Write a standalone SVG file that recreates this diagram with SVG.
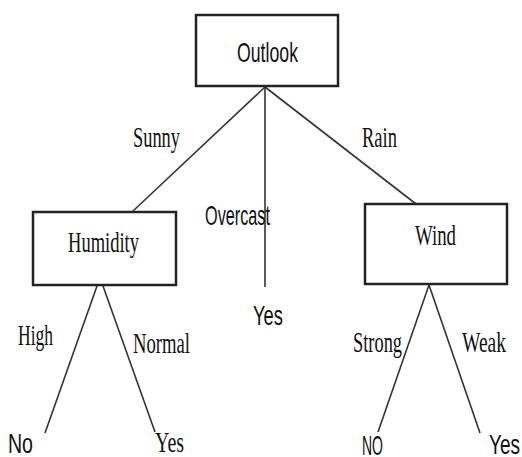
<svg xmlns="http://www.w3.org/2000/svg" width="522" height="457" viewBox="0 0 522 457">
<style>
.box{fill:#fff;stroke:#222;stroke-width:2.5}
.edge{stroke:#333;stroke-width:1.6;fill:none}
.serif{font-family:"Liberation Serif","Times New Roman",serif;font-size:29px;fill:#111}
.sans{font-family:"Liberation Sans",Arial,sans-serif;font-size:28px;fill:#111}
</style>
<rect width="522" height="457" fill="#fff"/>
<g id="connectors">
<line class="edge" x1="265" y1="87" x2="133" y2="211"/>
<line class="edge" x1="265" y1="87" x2="265" y2="287"/>
<line class="edge" x1="265" y1="87" x2="416" y2="204"/>
<line class="edge" x1="97" y1="286" x2="45" y2="433"/>
<line class="edge" x1="103" y1="286" x2="155" y2="432"/>
<line class="edge" x1="429" y1="285" x2="378" y2="432"/>
<line class="edge" x1="429" y1="285" x2="480" y2="433"/>
</g>
<g id="labels">
<text class="serif" x="133" y="147" textLength="47" lengthAdjust="spacingAndGlyphs">Sunny</text>
<text class="serif" x="362" y="147" textLength="35" lengthAdjust="spacingAndGlyphs">Rain</text>
<text class="sans" x="205" y="225" textLength="65" lengthAdjust="spacingAndGlyphs" font-size="25">Overcast</text>
<text class="serif" x="18" y="345" textLength="35" lengthAdjust="spacingAndGlyphs">High</text>
<text class="serif" x="133" y="353" textLength="57" lengthAdjust="spacingAndGlyphs">Normal</text>
<text class="serif" x="353" y="352" textLength="49" lengthAdjust="spacingAndGlyphs">Strong</text>
<text class="serif" x="462" y="352" textLength="44" lengthAdjust="spacingAndGlyphs">Weak</text>
</g>
<g id="outlook">
<rect class="box" x="196" y="15" width="142" height="71"/>
<text class="sans" x="237" y="62" textLength="61" lengthAdjust="spacingAndGlyphs">Outlook</text>
</g>
<g id="humidity">
<rect class="box" x="33" y="212" width="143" height="73"/>
<text class="serif" x="68" y="252" textLength="71" lengthAdjust="spacingAndGlyphs">Humidity</text>
</g>
<g id="wind">
<rect class="box" x="365" y="204" width="142" height="80"/>
<text class="serif" x="415" y="245" textLength="41" lengthAdjust="spacingAndGlyphs" font-size="27">Wind</text>
</g>
<g id="yes-overcast">
<text class="sans" x="253" y="325" textLength="30" lengthAdjust="spacingAndGlyphs">Yes</text>
</g>
<g id="no-high">
<text class="sans" x="8" y="453" textLength="25" lengthAdjust="spacingAndGlyphs">No</text>
</g>
<g id="yes-normal">
<text class="serif" x="155" y="452" textLength="29" lengthAdjust="spacingAndGlyphs">Yes</text>
</g>
<g id="no-strong">
<text class="sans" x="362" y="455" textLength="21" lengthAdjust="spacingAndGlyphs" font-size="25">NO</text>
</g>
<g id="yes-weak">
<text class="sans" x="489" y="454" textLength="31" lengthAdjust="spacingAndGlyphs">Yes</text>
</g>
</svg>
